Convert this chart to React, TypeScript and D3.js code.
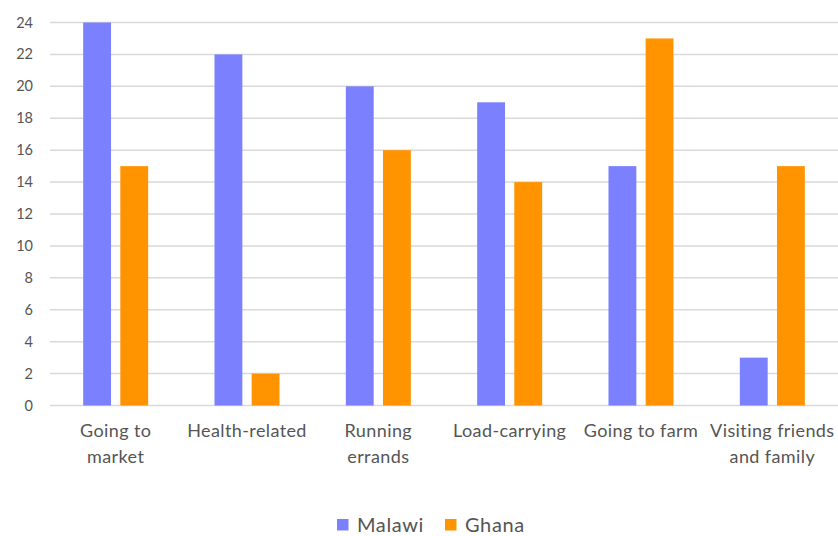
import React from "react";
import * as d3 from "d3";

const categories: string[][] = [
  ["Going to", "market"],
  ["Health-related"],
  ["Running", "errands"],
  ["Load-carrying"],
  ["Going to farm"],
  ["Visiting friends", "and family"],
];
const seriesNames = ["Malawi", "Ghana"];
const malawi = [24, 22, 20, 19, 15, 3];
const ghana = [15, 2, 16, 14, 23, 15];
const yTicks = [0, 2, 4, 6, 8, 10, 12, 14, 16, 18, 20, 22, 24];
const colors = ["#7B80FF", "#FF9300"];

const W = 838;
const H = 536;
const left = 50;
const right = 838;
const top = 22.5;
const bottom = 405.5;
const font = "Lato, 'Open Sans', sans-serif";

export default function App() {
  const keys = categories.map((c) => c.join(" "));
  const x0 = d3.scaleBand<string>().domain(keys).range([left, right]).paddingInner(0).paddingOuter(0);
  const bw = x0.bandwidth();
  const x1 = d3
    .scaleBand<string>()
    .domain(seriesNames)
    .range([bw / 2 - 32.5, bw / 2 + 32.5])
    .paddingInner(0.25)
    .paddingOuter(0);
  const y = d3.scaleLinear().domain([0, 24]).range([bottom, top]);
  const values = [malawi, ghana];

  return (
    <svg
      width={W}
      height={H}
      style={{ position: "absolute", left: 0, top: 0, background: "#fff" }}
      fontFamily={font}
    >
      {yTicks.map((t) => (
        <g key={t}>
          <line x1={left} x2={right} y1={y(t)} y2={y(t)} stroke="#D9D9D9" strokeWidth={1.5} />
          <text x={33} y={y(t)} dy="0.35em" textAnchor="end" fontSize={14.5} fill="#555">
            {t}
          </text>
        </g>
      ))}
      {keys.map((k, i) => (
        <g key={k} transform={`translate(${x0(k)},0)`}>
          {seriesNames.map((s, j) => (
            <rect
              key={s}
              x={x1(s)}
              width={x1.bandwidth()}
              y={y(values[j][i])}
              height={y(0) - y(values[j][i])}
              fill={colors[j]}
            />
          ))}
          {categories[i].map((line, li) => (
            <text
              key={li}
              x={bw / 2}
              y={437 + li * 26}
              textAnchor="middle"
              fontSize={18}
              letterSpacing={0.4}
              fill="#555"
            >
              {line}
            </text>
          ))}
        </g>
      ))}
      <g>
        {seriesNames.map((s, j) => {
          const lx = j === 0 ? 337 : 445;
          return (
            <g key={s}>
              <rect x={lx} y={519} width={11.5} height={11.5} fill={colors[j]} />
              <text x={lx + 20} y={525} dy="0.35em" fontSize={20} letterSpacing={0.6} fill="#555">
                {s}
              </text>
            </g>
          );
        })}
      </g>
    </svg>
  );
}
